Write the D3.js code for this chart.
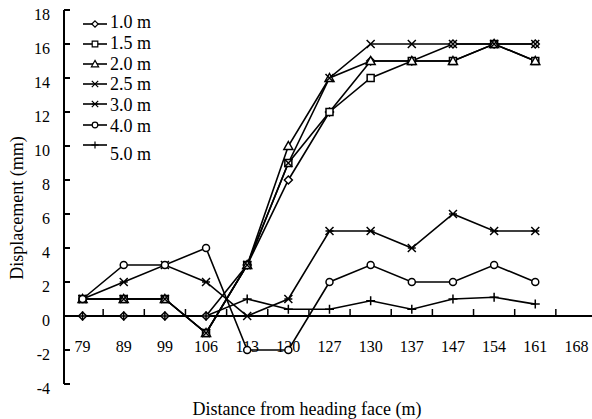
<!DOCTYPE html>
<meta charset="utf-8">
<script src="https://cdn.jsdelivr.net/npm/d3@7"></script>
<style>
  body { margin: 0; background: #fff; }
  text { font-family: "Liberation Serif", "Times New Roman", serif; fill: #000; }
</style>
<div id="chart"></div>
<script>
var width = 592, height = 419;

// distance from heading face (m)
var distances = ["79", "89", "99", "106", "113", "120", "127", "130", "137", "147", "154", "161", "168"];
var yTicks = [-4, -2, 0, 2, 4, 6, 8, 10, 12, 14, 16, 18];
var seriesNames = ["1.0 m", "1.5 m", "2.0 m", "2.5 m", "3.0 m", "4.0 m", "5.0 m"];
var markers = ["diamond", "square", "triangle", "x", "asterisk", "circle", "plus"];

// displacement (mm), one value per distance up to 161
var d10 = [0, 0, 0, 0, 3, 8, 12, 15, 15, 16, 16, 16];
var d15 = [1, 1, 1, -1, 3, 9, 12, 14, 15, 15, 16, 15];
var d20 = [1, 1, 1, -1, 3, 10, 14, 15, 15, 15, 16, 15];
var d25 = [1, 1, 1, -1, 3, 9, 14, 16, 16, 16, 16, 16];
var d30 = [1, 2, 3, 2, 0, 1, 5, 5, 4, 6, 5, 5];
var d40 = [1, 3, 3, 4, -2, -2, 2, 3, 2, 2, 3, 2];
var d50 = [0, 0, 0, 0, 1, 0.4, 0.4, 0.9, 0.4, 1, 1.1, 0.7];
var allSeries = [d10, d15, d20, d25, d30, d40, d50];

var svg = d3.select("#chart").append("svg")
    .attr("width", width)
    .attr("height", height);

var x = d3.scaleBand().domain(distances).range([62, 597]);
var y = d3.scaleLinear().domain([-4, 18]).range([384, 10]);
var cx = function(i) { return x(distances[i]) + x.bandwidth() / 2; };

// marker shapes
function markerPath(type) {
  var s = 4;
  switch (type) {
    case "diamond": return "M0,-" + s + "L" + s + ",0L0," + s + "L-" + s + ",0Z";
    case "square": return "M-3.5,-3.5H3.5V3.5H-3.5Z";
    case "triangle": return "M0,-4.5L4.5,3.5H-4.5Z";
    case "x": return "M-4,-4L4,4M4,-4L-4,4";
    case "asterisk": return "M-4,-4L4,4M4,-4L-4,4M-4,0H4";
    case "circle": return "M3.5,0A3.5,3.5 0 1,1 -3.5,0A3.5,3.5 0 1,1 3.5,0Z";
    case "plus": return "M-4.5,0H4.5M0,-4.5V4.5";
  }
}

// y axis
svg.append("line")
  .attr("x1", 64).attr("x2", 64)
  .attr("y1", y(18)).attr("y2", y(-4))
  .attr("stroke", "#000").attr("stroke-width", 2);
svg.selectAll(".ytick").data(yTicks).enter().append("line")
  .attr("x1", 64).attr("x2", 70)
  .attr("y1", function(d) { return y(d); })
  .attr("y2", function(d) { return y(d); })
  .attr("stroke", "#000").attr("stroke-width", 2);
svg.selectAll(".ylab").data(yTicks).enter().append("text")
  .attr("x", 50)
  .attr("y", function(d) { return y(d) + 10; })
  .attr("text-anchor", "end")
  .style("font-size", "16px")
  .text(function(d) { return d; });

// x axis along zero
svg.append("line")
  .attr("x1", 64).attr("x2", 592)
  .attr("y1", y(0)).attr("y2", y(0))
  .attr("stroke", "#000").attr("stroke-width", 2);
svg.selectAll(".xtick").data(distances.slice(1)).enter().append("line")
  .attr("x1", function(d) { return x(d); })
  .attr("x2", function(d) { return x(d); })
  .attr("y1", y(0)).attr("y2", y(0) - 7)
  .attr("stroke", "#000").attr("stroke-width", 1.5);
svg.selectAll(".xlab").data(distances).enter().append("text")
  .attr("x", function(d) { return x(d) + x.bandwidth() / 2; })
  .attr("y", y(0) + 36)
  .attr("text-anchor", "middle")
  .style("font-size", "16px")
  .text(function(d) { return d; });

// axis titles
svg.append("text")
  .attr("transform", "translate(23,208) rotate(-90)")
  .attr("text-anchor", "middle")
  .style("font-size", "18px")
  .text("Displacement (mm)");
svg.append("text")
  .attr("x", 307).attr("y", 415)
  .attr("text-anchor", "middle")
  .style("font-size", "18px")
  .text("Distance from heading face (m)");

// lines and markers
var line = d3.line()
  .x(function(d, i) { return cx(i); })
  .y(function(d) { return y(d); });

allSeries.forEach(function(vals, k) {
  svg.append("path")
    .attr("d", line(vals))
    .attr("fill", "none")
    .attr("stroke", "#000")
    .attr("stroke-width", 1.6);
});
allSeries.forEach(function(vals, k) {
  svg.selectAll(".m" + k).data(vals).enter().append("path")
    .attr("transform", function(d, i) { return "translate(" + cx(i) + "," + y(d) + ")"; })
    .attr("d", markerPath(markers[k]))
    .attr("fill", "#fff")
    .attr("stroke", "#000")
    .attr("stroke-width", 1.5);
});

// legend
var legendRows = [24, 44, 64, 84, 104, 125, 145];
var legendText = [22, 43, 64, 84, 105, 126, 154];
seriesNames.forEach(function(name, k) {
  var g = svg.append("g");
  g.append("line")
    .attr("x1", 83).attr("x2", 107)
    .attr("y1", legendRows[k]).attr("y2", legendRows[k])
    .attr("stroke", "#000").attr("stroke-width", 1.6);
  g.append("path")
    .attr("transform", "translate(95," + legendRows[k] + ") scale(0.8)")
    .attr("d", markerPath(markers[k]))
    .attr("fill", "#fff")
    .attr("stroke", "#000")
    .attr("stroke-width", 1.5);
  g.append("text")
    .attr("x", 110).attr("y", legendText[k] + 6)
    .style("font-size", "18px")
    .text(name);
});
</script>
